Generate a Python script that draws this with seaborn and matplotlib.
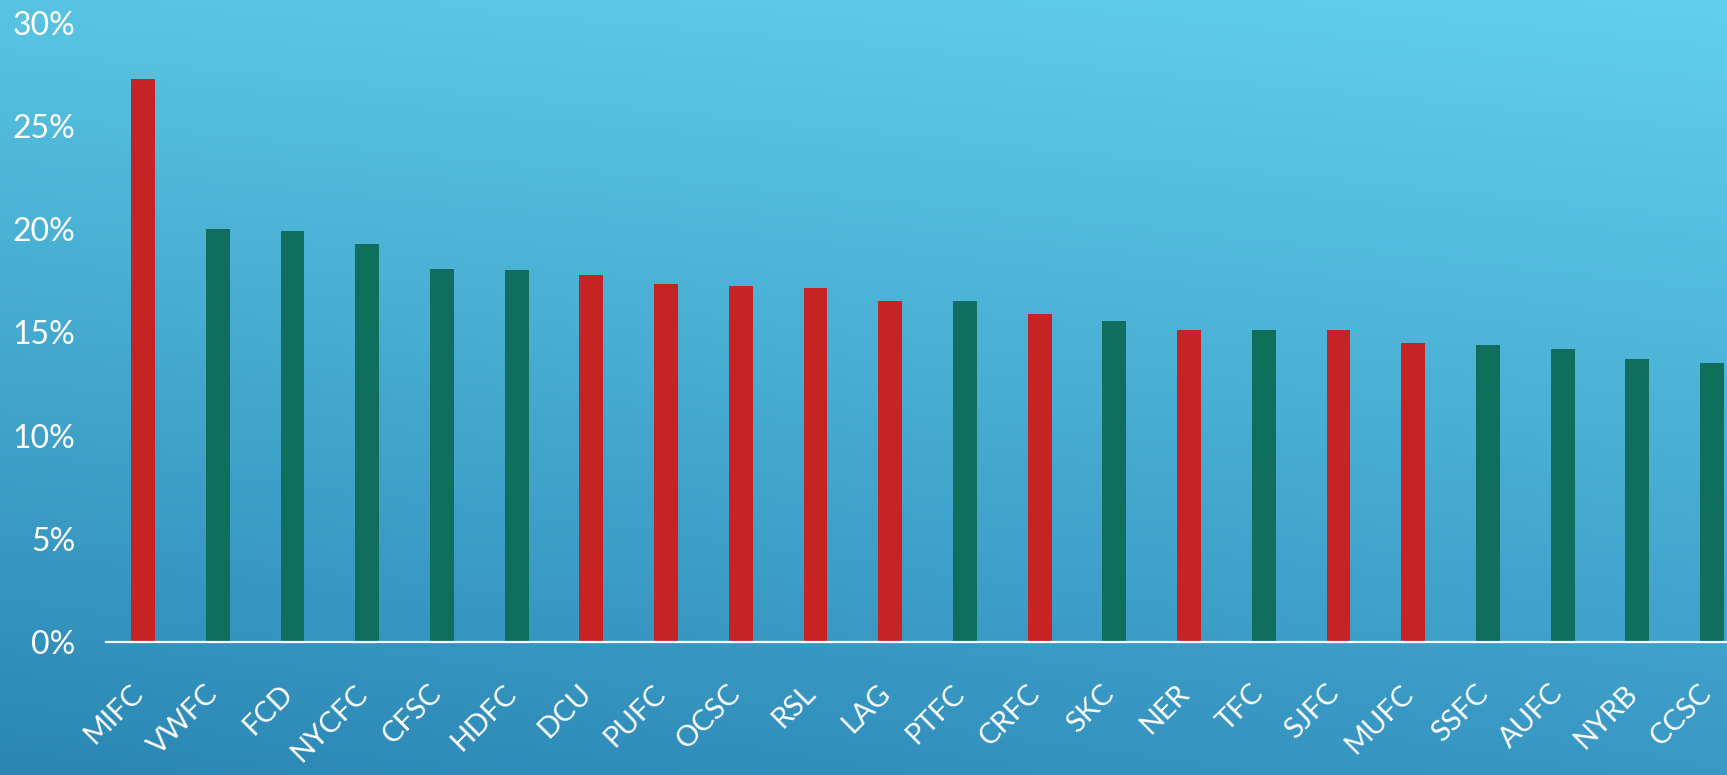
import numpy as np
import matplotlib
matplotlib.use('Agg')
import matplotlib.pyplot as plt
import matplotlib.transforms as mtransforms
import pandas as pd
import seaborn as sns

# --- data ---
teams = ['MIFC', 'VWFC', 'FCD', 'NYCFC', 'CFSC', 'HDFC', 'DCU', 'PUFC', 'OCSC', 'RSL', 'LAG',
         'PTFC', 'CRFC', 'SKC', 'NER', 'TFC', 'SJFC', 'MUFC', 'SSFC', 'AUFC', 'NYRB', 'CCSC']
share = [27.3, 20.0, 19.9, 19.3, 18.1, 18.05, 17.8, 17.35, 17.25, 17.15, 16.55,
         16.55, 15.9, 15.55, 15.1, 15.1, 15.1, 14.5, 14.4, 14.2, 13.7, 13.5]
group = ['red', 'green', 'green', 'green', 'green', 'green', 'red', 'red', 'red', 'red', 'red',
         'green', 'red', 'green', 'red', 'green', 'red', 'red', 'green', 'green', 'green', 'green']
yticks = [0, 5, 10, 15, 20, 25, 30]

df = pd.DataFrame({'team': teams, 'share': share, 'group': group})

my_red = '#C62324'
my_green = '#0F6E5C'

sns.set_style('white')
plt.rcParams['font.family'] = ['Lato', 'DejaVu Sans']

W, H = 1727, 775
fig = plt.figure(figsize=(W / 100, H / 100), dpi=100)

# gradient background (corner colours)
tl = np.array([88, 196, 226]) / 255
tr = np.array([96, 208, 236]) / 255
bl = np.array([43, 134, 180]) / 255
br = np.array([58, 152, 196]) / 255
u = np.linspace(0, 1, 200)[None, :, None]
v = np.linspace(0, 1, 100)[:, None, None]
grad = (1 - v) * ((1 - u) * tl + u * tr) + v * ((1 - u) * bl + u * br)
bg = fig.add_axes([0, 0, 1, 1], zorder=-1)
bg.imshow(grad, aspect='auto', extent=[0, 1, 0, 1], interpolation='bicubic')
bg.axis('off')

# main axes
left, right = 105.7 / W, 1.0
bottom, top = 1 - 642 / H, 1 - 23 / H
ax = fig.add_axes([left, bottom, right - left, top - bottom])
ax.patch.set_alpha(0)

sns.barplot(data=df, x='team', y='share', hue='group', order=teams,
            palette={'red': my_red, 'green': my_green}, dodge=False,
            width=0.32, legend=False, ax=ax, saturation=1, linewidth=0)

ax.set_xlim(-0.5, 21.2)
ax.set_ylim(0, 30)
ax.set_yticks(yticks)
ax.set_yticklabels([f'{t}%' for t in yticks])
ax.set_xlabel('')
ax.set_ylabel('')

for s in ['top', 'right', 'left']:
    ax.spines[s].set_visible(False)
ax.spines['bottom'].set_color('white')
ax.spines['bottom'].set_linewidth(1.6)

ax.tick_params(axis='y', length=0, pad=22, labelsize=23, labelcolor='white')
ax.tick_params(axis='x', length=0, pad=34, labelsize=21, labelcolor='white')
offset = mtransforms.ScaledTranslation(-0.04, 0, fig.dpi_scale_trans)
for lab in ax.get_xticklabels():
    lab.set_rotation(45)
    lab.set_ha('right')
    lab.set_va('center')
    lab.set_rotation_mode('anchor')
    lab.set_transform(lab.get_transform() + offset)

fig.savefig('out.png', dpi=100)
